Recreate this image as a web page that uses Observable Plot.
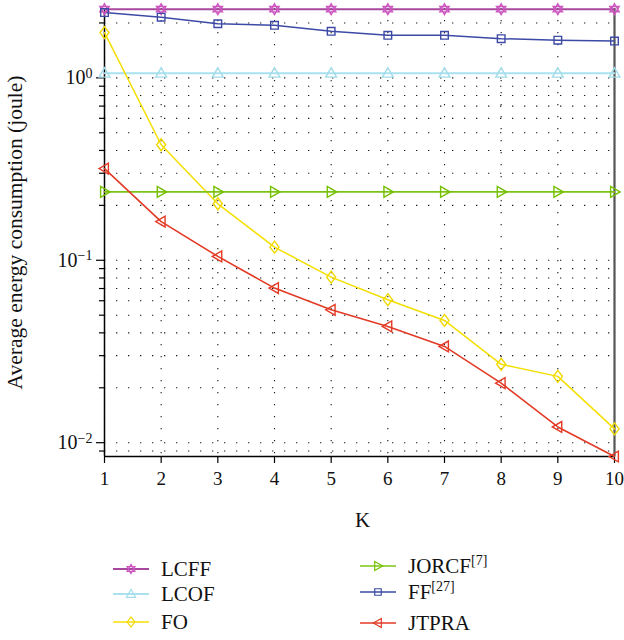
<!DOCTYPE html>
<html><head><meta charset="utf-8">
<script src="https://cdn.jsdelivr.net/npm/d3@7"></script>
<script src="https://cdn.jsdelivr.net/npm/@observablehq/plot@0.6"></script>
<style>
body{margin:0;background:#fff;font-family:"Liberation Serif","Times New Roman",serif;}
#chart{width:624px;height:540px;}
#legend{position:relative;width:624px;height:100px;font-size:21px;color:#111;}
.item{position:absolute;display:flex;align-items:center;height:26px;}
.item svg{margin-right:12px;}
sup{font-size:14px;vertical-align:0;position:relative;top:-8px;}
</style></head><body>
<div id="chart"></div>
<div id="legend"></div>
<script>
const K = [1, 2, 3, 4, 5, 6, 7, 8, 9, 10];
const LCFF  = [2.38, 2.38, 2.38, 2.38, 2.38, 2.38, 2.38, 2.38, 2.38, 2.38];
const LCOF  = [1.06, 1.06, 1.06, 1.06, 1.06, 1.06, 1.06, 1.06, 1.06, 1.06];
const FO    = [1.77, 0.43, 0.204, 0.118, 0.0808, 0.0608, 0.0468, 0.0269, 0.0231, 0.0119];
const JORCF = [0.237, 0.237, 0.237, 0.237, 0.237, 0.237, 0.237, 0.237, 0.237, 0.237];
const FF    = [2.28, 2.15, 1.98, 1.94, 1.80, 1.71, 1.71, 1.64, 1.61, 1.59];
const JTPRA = [0.318, 0.163, 0.105, 0.0704, 0.0535, 0.0434, 0.0337, 0.0212, 0.0122, 0.0084];

const majorTicks = [1, 0.1, 0.01];
const majorLabels = ["10|0", "10|−1", "10|−2"];
const minorTicks = [0.009, 0.02, 0.03, 0.04, 0.05, 0.06, 0.07, 0.08, 0.09,
                    0.2, 0.3, 0.4, 0.5, 0.6, 0.7, 0.8, 0.9, 2];
const gridTicks = [0.009, 0.01, 0.02, 0.03, 0.04, 0.05, 0.06, 0.07, 0.08, 0.09,
                   0.1, 0.2, 0.3, 0.4, 0.5, 0.6, 0.7, 0.8, 0.9, 1, 2];
const yDomain = [0.0084, 2.4];

const poly = (pts) => ({draw(ctx) {
  pts.forEach(([px, py], i) => i ? ctx.lineTo(px, py) : ctx.moveTo(px, py));
  ctx.closePath();
}});
const hexagram = {draw(ctx) {
  const r = 5.4;
  for (const off of [-Math.PI / 2, Math.PI / 2]) {
    for (let i = 0; i < 3; i++) {
      const a = off + i * 2 * Math.PI / 3;
      const px = r * Math.cos(a), py = r * Math.sin(a);
      i ? ctx.lineTo(px, py) : ctx.moveTo(px, py);
    }
    ctx.closePath();
  }
}};
const symTriUp = poly([[0, -5.5], [5.4, 3.9], [-5.4, 3.9]]);
const symTriRight = poly([[5.5, 0], [-3.9, -5.4], [-3.9, 5.4]]);
const symTriLeft = poly([[-5.5, 0], [3.9, -5.4], [3.9, 5.4]]);
const symSquare = poly([[-3.8, -3.8], [3.8, -3.8], [3.8, 3.8], [-3.8, 3.8]]);
const symDiamond = poly([[0, -6], [4.5, 0], [0, 6], [-4.5, 0]]);

const seriesDefs = [
  {name: "LCFF", values: LCFF, line: "#a8489f", mark: "#cc55c0", sym: hexagram, lw: 2},
  {name: "LCOF", values: LCOF, line: "#a9e2ee", mark: "#a0dcea", sym: symTriUp, lw: 2},
  {name: "FO", values: FO, line: "#f4df00", mark: "#f0d800", sym: symDiamond, lw: 1.5},
  {name: "JORCF", values: JORCF, line: "#7cc414", mark: "#74c000", sym: symTriRight, lw: 1.6},
  {name: "FF", values: FF, line: "#3c4aa6", mark: "#3c4aa6", sym: symSquare, lw: 1.5},
  {name: "JTPRA", values: JTPRA, line: "#e33a25", mark: "#e33a25", sym: symTriLeft, lw: 1.6}
];

const rows = seriesDefs.map(s => K.map((k, i) => ({k, v: s.values[i], name: s.name})));

const marks = [
  Plot.gridY(gridTicks, {stroke: "#000", strokeOpacity: 0.9, strokeWidth: 1.1, strokeDasharray: "1.3,10.7"}),
  Plot.gridX(K, {stroke: "#000", strokeOpacity: 0.9, strokeWidth: 1.1, strokeDasharray: "1.3,10.7"}),
  Plot.axisY(majorTicks, {tickSize: 8, tickPadding: 4, tickFormat: (d) => majorLabels[majorTicks.indexOf(d)], fontSize: 20, stroke: "#000", strokeWidth: 1.2}),
  Plot.axisY(minorTicks, {tickSize: 5, tickFormat: () => "", stroke: "#000", strokeWidth: 1.2}),
  Plot.axisX(K, {tickSize: 7, tickPadding: 8, fontSize: 19, stroke: "#000", strokeWidth: 1.2}),
  Plot.ruleX([1], {stroke: "#000", strokeWidth: 1.5}),
  Plot.ruleY([yDomain[0]], {stroke: "#000", strokeWidth: 1.5}),
  Plot.ruleX([10], {stroke: "#555", strokeWidth: 2.2})
];
seriesDefs.forEach((s, j) => {
  marks.push(Plot.line(rows[j], {x: "k", y: "v", stroke: s.line, strokeWidth: s.lw}));
});
seriesDefs.forEach((s, j) => {
  marks.push(Plot.dot(rows[j], {x: "k", y: "v", symbol: s.sym, fill: "none", stroke: s.mark, strokeWidth: 1.4}));
});
marks.push(Plot.text(["K"], {frameAnchor: "bottom", textAnchor: "middle", dy: 70, dx: 3, fontSize: 21, fill: "#111"}));
marks.push(Plot.text(["Average energy consumption (joule)"], {frameAnchor: "left", textAnchor: "middle", dx: -89, rotate: -90, fontSize: 21.5, fill: "#111"}));

const chart = Plot.plot({
  width: 624,
  height: 540,
  marginLeft: 104,
  marginRight: 10,
  marginTop: 8,
  marginBottom: 84,
  style: {fontFamily: '"Liberation Serif","Times New Roman",serif', color: "#111", background: "#fff"},
  x: {domain: [1, 10], label: null},
  y: {type: "log", domain: yDomain, label: null},
  marks
});
document.getElementById("chart").appendChild(chart);

// superscript exponents on y tick labels
d3.select(chart).selectAll("text").each(function() {
  const t = this.textContent;
  if (t.includes("|")) {
    const [base, exp] = t.split("|");
    const sel = d3.select(this);
    sel.text(null);
    sel.append("tspan").text(base);
    sel.append("tspan").attr("dy", "-0.45em").attr("font-size", "14").text(exp);
  }
});

// legend
const legend = document.getElementById("legend");
const legendItems = [
  {s: seriesDefs[0], x: 113, y: 29, label: "LCFF"},
  {s: seriesDefs[1], x: 113, y: 54, label: "LCOF"},
  {s: seriesDefs[2], x: 113, y: 82, label: "FO"},
  {s: seriesDefs[3], x: 360, y: 26, label: "JORCF<sup>[7]</sup>"},
  {s: seriesDefs[4], x: 360, y: 52, label: "FF<sup>[27]</sup>"},
  {s: seriesDefs[5], x: 360, y: 83, label: "JTPRA"}
];
legendItems.forEach(it => {
  const div = document.createElement("div");
  div.className = "item";
  div.style.left = it.x + "px";
  div.style.top = (it.y - 13) + "px";
  const svg = d3.create("svg").attr("width", 36).attr("height", 16);
  svg.append("line").attr("x1", 0).attr("x2", 36).attr("y1", 8).attr("y2", 8)
     .attr("stroke", it.s.line).attr("stroke-width", it.s.lw);
  const p = d3.path();
  it.s.sym.draw(p);
  svg.append("path").attr("d", p.toString()).attr("transform", "translate(18,8) scale(0.85)")
     .attr("fill", "none").attr("stroke", it.s.mark).attr("stroke-width", 1.4);
  div.appendChild(svg.node());
  const span = document.createElement("span");
  span.innerHTML = it.label;
  div.appendChild(span);
  legend.appendChild(div);
});
</script>
</body></html>
